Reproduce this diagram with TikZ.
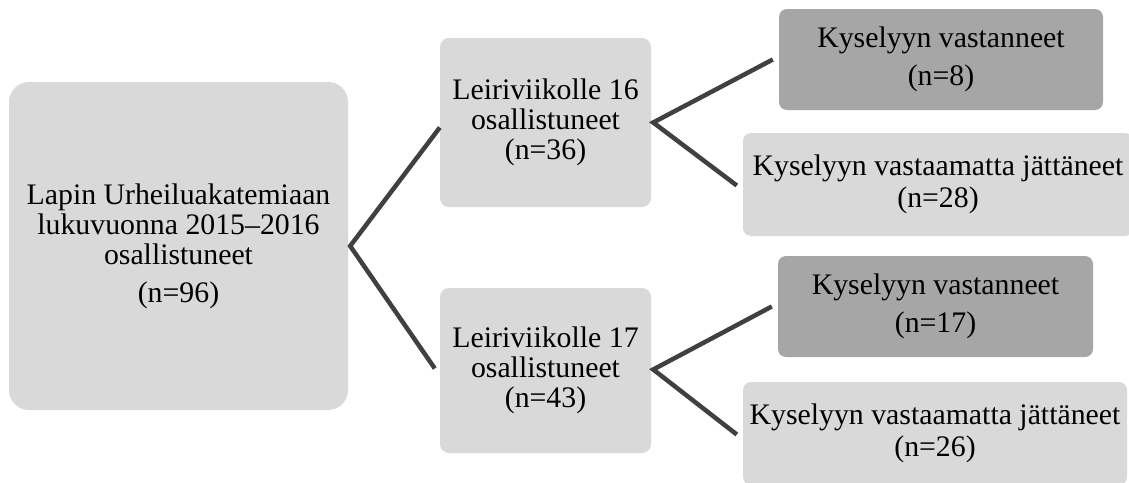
\documentclass[tikz,border=0pt]{standalone}
\usepackage{fontspec}
\setmainfont{Liberation Serif}
\definecolor{pLight}{RGB}{217,217,217}
\definecolor{pDark}{RGB}{166,166,166}
\definecolor{pLine}{RGB}{64,64,64}

\begin{document}
\begin{tikzpicture}[
  x=1pt,
  y=-1pt,
  every node/.style={font=\fontsize{29.8}{30}\selectfont},
  flatnode/.style={
    fill=pLight,
    rounded corners=9pt,
    align=center,
    inner sep=0pt
  },
  darknode/.style={flatnode, fill=pDark, rounded corners=8pt},
  edge/.style={line width=4.5pt, draw=pLine}
]
  \useasboundingbox (0,0) rectangle (1129,482);

  \node[flatnode, rounded corners=20pt, minimum width=339pt, minimum height=328pt] (all) at (178.5,246) {Lapin Urheiluakatemiaan\\lukuvuonna 2015–2016\\osallistuneet\\[8pt](n=96)};
  \node[flatnode, minimum width=211pt, minimum height=169pt] (w16) at (545.5,122.5) {Leiriviikolle 16\\osallistuneet\\(n=36)};
  \node[flatnode, minimum width=211pt, minimum height=165pt] (w17) at (545.5,370.5) {Leiriviikolle 17\\osallistuneet\\(n=43)};
  \node[darknode, minimum width=324pt, minimum height=101pt] (ans16) at (941,59.5) {Kyselyyn vastanneet\\[8pt](n=8)};
  \node[flatnode, rounded corners=8pt, minimum width=390pt, minimum height=103pt] (no16) at (938,184.5) {Kyselyyn vastaamatta jättäneet\\[2pt](n=28)};
  \node[darknode, minimum width=315pt, minimum height=101pt] (ans17) at (935.5,306.5) {Kyselyyn vastanneet\\[8pt](n=17)};
  \node[flatnode, rounded corners=8pt, minimum width=384pt, minimum height=103pt] (no17) at (935,433.5) {Kyselyyn vastaamatta jättäneet\\[2pt](n=26)};

  \draw[edge] ([yshift=-5pt]w16.west) -- ([xshift=2pt]all.east) -- ([xshift=-5pt,yshift=2pt]w17.west);
  \draw[edge] ([xshift=-6pt]ans16.west) -- ([xshift=2pt]w16.east) -- ([xshift=-6pt,yshift=-1pt]no16.west);
  \draw[edge] ([xshift=-6pt]ans17.west) -- ([xshift=2pt,yshift=1pt]w17.east) -- ([xshift=-6pt,yshift=-1pt]no17.west);
\end{tikzpicture}
\end{document}
